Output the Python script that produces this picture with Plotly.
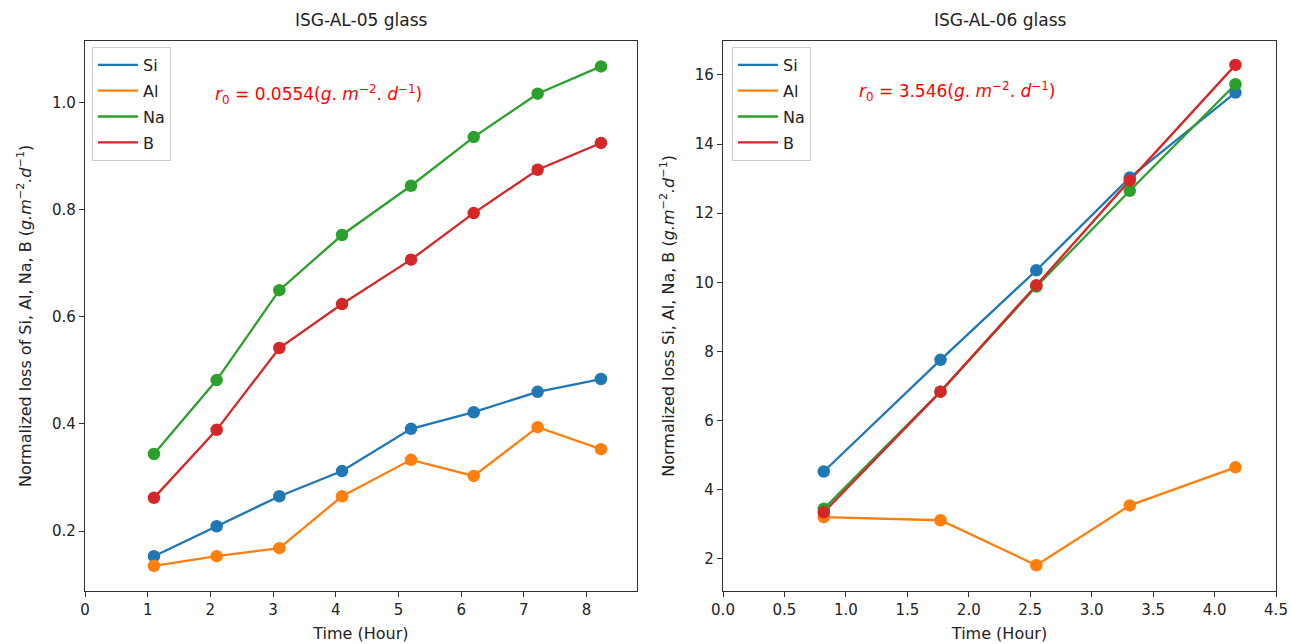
import plotly.graph_objects as go

# ---- data ----
elements = ["Si", "Al", "Na", "B"]
colors = ["#1f77b4", "#ff7f0e", "#2ca02c", "#d62728"]

time_05 = [1.1, 2.1, 3.1, 4.1, 5.2, 6.2, 7.22, 8.23]
si_05 = [0.153, 0.209, 0.265, 0.312, 0.391, 0.422, 0.460, 0.484]
al_05 = [0.135, 0.153, 0.168, 0.265, 0.333, 0.303, 0.394, 0.353]
na_05 = [0.344, 0.482, 0.650, 0.753, 0.845, 0.936, 1.017, 1.068]
b_05 = [0.262, 0.389, 0.542, 0.624, 0.707, 0.794, 0.875, 0.925]

time_06 = [0.82, 1.77, 2.55, 3.31, 4.17]
si_06 = [4.53, 7.76, 10.35, 13.03, 15.49]
al_06 = [3.21, 3.12, 1.82, 3.55, 4.65]
na_06 = [3.45, 6.84, 9.88, 12.65, 15.73]
b_06 = [3.35, 6.84, 9.92, 12.95, 16.29]

xticks_05 = [0, 1, 2, 3, 4, 5, 6, 7, 8]
yticks_05 = [0.2, 0.4, 0.6, 0.8, 1.0]
xticks_06 = [0.0, 0.5, 1.0, 1.5, 2.0, 2.5, 3.0, 3.5, 4.0, 4.5]
yticks_06 = [2, 4, 6, 8, 10, 12, 14, 16]

titles = ["ISG-AL-05 glass", "ISG-AL-06 glass"]
rates = ["0.0554", "3.546"]

W, H = 1291, 644
FONT = "DejaVu Sans"

fig = go.Figure()

datasets = [
    (time_05, [si_05, al_05, na_05, b_05], "x", "y", "legend", "a"),
    (time_06, [si_06, al_06, na_06, b_06], "x2", "y2", "legend2", "b"),
]
for t, series, xa, ya, lg, tag in datasets:
    for name, vals, c in zip(elements, series, colors):
        fig.add_trace(go.Scatter(x=t, y=vals, mode="lines", name=name,
                                 line=dict(color=c, width=2.3),
                                 legendgroup=tag + name,
                                 xaxis=xa, yaxis=ya, legend=lg))
    for name, vals, c in zip(elements, series, colors):
        fig.add_trace(go.Scatter(x=t, y=vals, mode="markers", name=name,
                                 marker=dict(color=c, size=12.5),
                                 showlegend=False, xaxis=xa, yaxis=ya))

def px_x(p):
    return p / W

def px_y(p):
    return 1 - p / H

ydom = [px_y(591), px_y(40.7)]

axis_common = dict(showgrid=False, zeroline=False, showline=True, mirror=True,
                   linecolor="#333", linewidth=1.3, ticks="outside", ticklen=5,
                   tickcolor="#333", tickfont=dict(family=FONT, size=15, color="#222"),
                   automargin=False)

ytitle_05 = "Normalized loss of Si, Al, Na, B (<i>g.m</i><sup>−2</sup><i>.d</i><sup>−1</sup>)"
ytitle_06 = "Normalized loss Si, Al, Na, B (<i>g.m</i><sup>−2</sup><i>.d</i><sup>−1</sup>)"

legend_common = dict(xanchor="left", yanchor="top", bgcolor="white",
                     bordercolor="#ccc", borderwidth=1,
                     font=dict(family=FONT, size=16, color="#222"), itemwidth=40,
                     traceorder="grouped", tracegroupgap=2)

fig.update_layout(
    width=W, height=H,
    margin=dict(l=0, r=0, t=0, b=0),
    paper_bgcolor="white", plot_bgcolor="white",
    font=dict(family=FONT, color="#222"),
    xaxis=dict(domain=[px_x(85), px_x(636.7)], range=[0, 8.8], tickvals=xticks_05,
               anchor="y", title=dict(text="Time (Hour)", font=dict(size=16), standoff=9),
               **axis_common),
    yaxis=dict(domain=ydom, range=[0.088, 1.116], tickvals=yticks_05, tickformat=".1f",
               anchor="x", title=dict(text=ytitle_05, font=dict(size=16), standoff=16),
               **axis_common),
    xaxis2=dict(domain=[px_x(723), px_x(1276)], range=[0, 4.5], tickvals=xticks_06,
                tickformat=".1f", anchor="y2",
                title=dict(text="Time (Hour)", font=dict(size=16), standoff=9),
                **axis_common),
    yaxis2=dict(domain=ydom, range=[1.074, 16.99], tickvals=yticks_06,
                anchor="x2", title=dict(text=ytitle_06, font=dict(size=16), standoff=16),
                **axis_common),
    legend=dict(x=px_x(92), y=px_y(47), **legend_common),
    legend2=dict(x=px_x(732), y=px_y(47), **legend_common),
)

# subplot titles
for ttl, cx in zip(titles, [361, 1000]):
    fig.add_annotation(text=ttl, x=px_x(cx), y=px_y(20), xref="paper", yref="paper",
                       showarrow=False, font=dict(family=FONT, size=17, color="#222"),
                       xanchor="center", yanchor="middle")

# rate annotations
for r, cx, cy in zip(rates, [318, 957], [95, 92]):
    fig.add_annotation(
        text=f"<i>r</i><sub>0</sub> = {r}(<i>g</i>. <i>m</i><sup>−2</sup>. <i>d</i><sup>−1</sup>)",
        x=px_x(cx), y=px_y(cy), xref="paper", yref="paper", showarrow=False,
        font=dict(family=FONT, size=17, color="red"), xanchor="center", yanchor="middle")

fig.write_html("out.html", config={"displayModeBar": False})

# remove the default page margin so the figure sits at the window origin
with open("out.html", "r", encoding="utf-8") as f:
    html = f.read()
html = html.replace("<body>", '<body style="margin:0;padding:0;overflow:hidden">', 1)
with open("out.html", "w", encoding="utf-8") as f:
    f.write(html)
